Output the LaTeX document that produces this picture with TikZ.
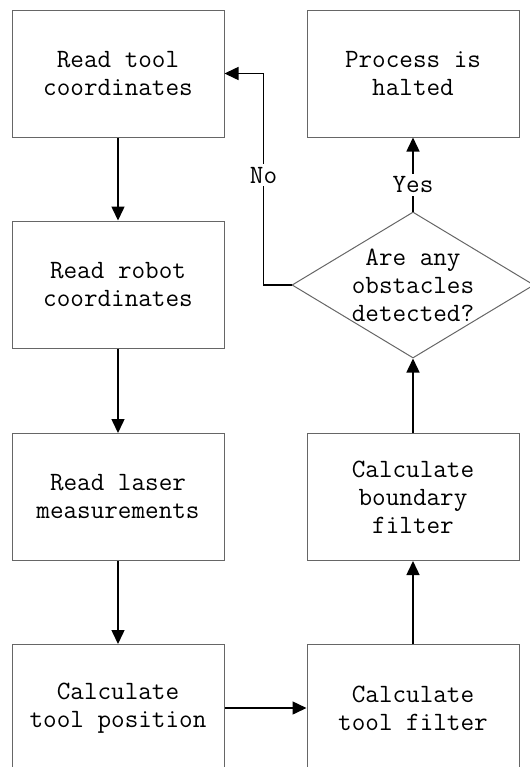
\documentclass[tikz,border=0pt]{standalone}
\usepackage{tikz}
\usetikzlibrary{shapes.geometric,arrows.meta}

\begin{document}
\begin{tikzpicture}[x=0.5pt,y=-0.5pt,
  font=\ttfamily\fontsize{13.2}{14}\selectfont,
  stepbox/.style={draw=black!60,line width=0.5pt,minimum width=106pt,minimum height=63.5pt,inner sep=0pt,align=center},
  query/.style={draw=black!60,line width=0.5pt,shape=diamond,minimum width=121pt,minimum height=73pt,inner sep=-10pt,align=center},
  flow/.style={-{Triangle[length=7pt,width=6.5pt]},line width=0.75pt},
  tag/.style={fill=white,inner sep=1.5pt}]
\useasboundingbox (0,0) rectangle (530,767);

\node[stepbox] (t1) at (118,73.5) {Read tool\\coordinates};
\node[stepbox] (t2) at (118,284.5) {Read robot\\coordinates};
\node[stepbox] (t3) at (118,497) {Read laser\\measurements};
\node[stepbox] (t4) at (118,708) {Calculate\\tool position};

\node[stepbox] (r4) at (413,708) {Calculate\\tool filter};
\node[stepbox] (r3) at (413,497) {Calculate\\boundary\\filter};
\node[query] (dec) at (413,285) {Are any\\obstacles\\detected?};
\node[stepbox] (r1) at (413,73.5) {Process is\\halted};

\draw[flow] (t1) -- (t2);
\draw[flow] (t2) -- (t3);
\draw[flow] (t3) -- (t4);
\draw[flow] (t4) -- (r4);
\draw[flow] (r4) -- (r3);
\draw[flow] (r3) -- (dec);
\draw[flow] (dec) -- node[tag,pos=0.36] {Yes} (r1);
\draw[flow] (dec.west) -- ++(-28,0) |- node[tag,pos=0.26] {No} (t1.east);
\end{tikzpicture}
\end{document}
